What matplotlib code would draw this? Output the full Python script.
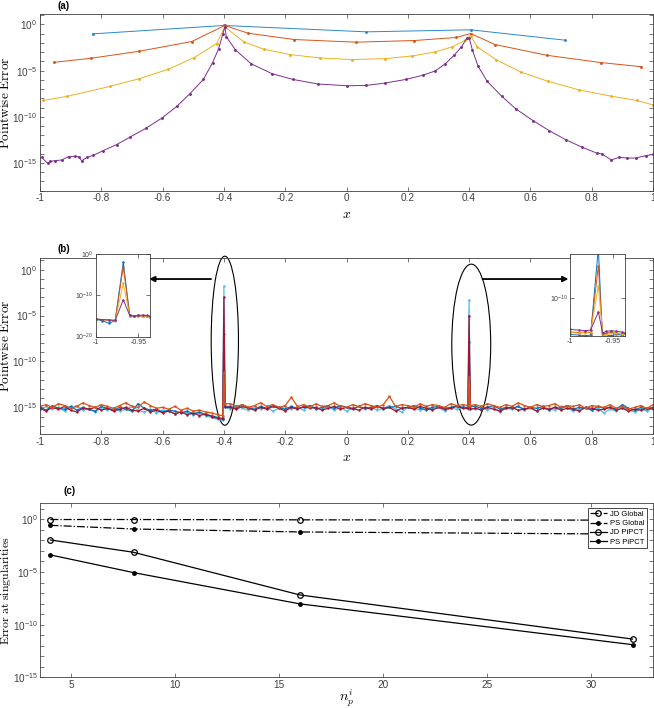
import numpy as np
import matplotlib
matplotlib.use("Agg")
import matplotlib.pyplot as plt
from matplotlib.patches import Ellipse
from matplotlib.ticker import FixedLocator, FuncFormatter, NullFormatter
import matplotlib.transforms as mtransforms

plt.rcParams['mathtext.fontset'] = 'cm'
plt.rcParams['font.family'] = ['Liberation Sans', 'DejaVu Sans']

# ---------------- panel (a): pointwise error, log10 values ----------------
a_blue_x = [-0.828, -0.4, 0.065, 0.405, 0.713]
a_blue_y = [-1.02, -0.11, -0.80, -0.58, -1.70]

a_red_x = [-0.953, -0.834, -0.676, -0.505, -0.397, -0.321, -0.171, 0.031, 0.221,
           0.358, 0.405, 0.484, 0.654, 0.831, 0.961]
a_red_y = [-4.10, -3.66, -2.90, -1.85, -0.11, -0.95, -1.63, -1.92, -1.74,
           -1.41, -0.98, -2.17, -3.34, -4.13, -4.57]

a_yel_x = [-0.990, -0.912, -0.772, -0.676, -0.582, -0.497, -0.424, -0.397, -0.335,
           -0.270, -0.184, -0.086, 0.018, 0.127, 0.214, 0.289, 0.344, 0.388, 0.405,
           0.427, 0.487, 0.569, 0.658, 0.757, 0.863, 0.947, 0.999]
a_yel_y = [-8.23, -7.79, -6.71, -5.87, -4.86, -3.59, -2.07, -0.26, -1.89,
           -2.68, -3.26, -3.63, -3.80, -3.70, -3.41, -2.98, -2.43, -1.71, -1.24,
           -2.43, -3.80, -5.15, -6.16, -7.07, -7.76, -8.23, -8.70]

a_pur_x = [-0.995, -0.975, -0.967, -0.951, -0.929, -0.907, -0.886, -0.873, -0.864,
           -0.846, -0.826, -0.794, -0.750, -0.707, -0.654, -0.603, -0.554, -0.511,
           -0.467, -0.437, -0.417, -0.403, -0.397, -0.392, -0.363, -0.312, -0.243,
           -0.175, -0.093, 0.003, 0.064, 0.125, 0.194, 0.248, 0.289, 0.323, 0.351,
           0.375, 0.392, 0.400, 0.411, 0.429, 0.459, 0.506, 0.552, 0.608, 0.661,
           0.715, 0.769, 0.816, 0.833, 0.864, 0.889, 0.916, 0.944, 0.976, 1.000]
a_pur_y = [-14.39, -15.04, -14.82, -14.75, -14.67, -14.32, -14.28, -14.35, -14.75,
           -14.39, -14.17, -13.66, -13.01, -12.21, -11.23, -10.15, -8.88, -7.50,
           -5.95, -4.14, -2.61, -0.98, -0.26, -1.34, -2.72, -4.24, -5.33,
           -5.95, -6.45, -6.64, -6.60, -6.35, -5.95, -5.51, -5.04, -4.24, -3.34,
           -2.43, -1.52, -1.45, -2.79, -4.50, -6.16, -7.76, -9.13, -10.40, -11.49,
           -12.47, -13.30, -13.92, -14.02, -14.67, -14.39, -14.46, -14.46, -14.21, -14.07]

# ---------------- panel (b): noise on a 0.02 grid, log10 values ----------------
b_x = np.linspace(-1, 1, 101)
b_lblue = [-15.3, -14.9, -15.2, -15.0, -15.4, -15.1, -14.8, -15.3, -15.2, -15.5, -15.0, -15.3, -15.1, -15.4, -15.2,
           -14.9, -15.3, -15.5, -15.2, -15.6, -15.3, -15.4, -15.7, -15.5, -15.6, -15.8, -15.6, -15.9, -16.1, -16.3,
           -1.8,
           -15.2, -14.8, -15.1, -15.3, -14.9, -15.2, -15.0, -15.4, -15.1, -14.9, -15.2, -15.0, -15.3, -14.8, -15.1,
           -15.2, -14.9, -15.3, -15.0, -15.4, -15.1, -14.9, -15.2, -15.0, -15.3, -15.1, -14.8, -15.2, -15.5, -15.0,
           -15.1, -15.3, -14.9, -15.2, -15.0, -15.4, -15.1, -15.2, -15.0,
           -3.3,
           -15.2, -14.9, -15.3, -15.0, -15.5, -15.1, -15.2, -14.9, -15.3, -15.1, -15.4, -15.0, -15.2, -15.3, -14.9,
           -15.1, -15.4, -15.2, -15.0, -15.3, -15.1, -15.6, -15.2, -15.4, -15.0, -15.3, -15.5, -15.2, -15.4, -15.1]
b_blue = [-15.0, -15.3, -14.8, -15.1, -15.2, -14.9, -15.3, -15.0, -15.2, -15.4, -14.9, -15.1, -15.3, -15.0, -15.2,
          -15.4, -14.6, -15.1, -15.3, -15.2, -15.5, -15.3, -15.4, -15.6, -15.4, -15.7, -15.5, -15.8, -15.9, -16.1,
          -7.0,
          -14.9, -15.1, -14.7, -15.0, -15.2, -14.9, -15.1, -14.8, -15.0, -15.2, -14.9, -15.1, -15.0, -14.8, -15.2,
          -15.0, -14.9, -15.1, -14.8, -15.0, -15.2, -14.9, -15.1, -15.0, -14.8, -15.2, -15.0, -14.9, -15.1, -15.0,
          -14.8, -15.1, -15.3, -15.0, -14.9, -15.1, -15.0, -14.8, -15.0,
          -7.9,
          -14.9, -15.1, -15.0, -14.8, -15.2, -15.0, -15.1, -14.9, -15.2, -15.0, -15.1, -14.9, -15.3, -15.0, -15.1,
          -14.8, -15.2, -15.0, -15.1, -15.3, -14.9, -15.1, -15.0, -15.2, -14.7, -15.1, -15.3, -15.0, -15.2, -15.0]
b_dred = [-15.1, -15.4, -15.0, -15.2, -14.9, -15.3, -15.5, -15.1, -15.2, -15.0, -15.3, -15.1, -15.4, -15.2, -15.0,
          -15.3, -15.4, -15.1, -15.5, -15.3, -15.6, -15.4, -15.7, -15.5, -15.8, -15.6, -15.9, -15.7, -16.0, -16.2,
          -3.0,
          -15.0, -15.2, -14.9, -15.1, -15.3, -15.0, -15.2, -14.9, -15.1, -15.4, -15.0, -15.2, -14.9, -15.1, -15.0,
          -15.3, -15.1, -14.9, -15.2, -15.0, -15.1, -15.3, -15.0, -15.2, -14.9, -15.1, -15.0, -15.4, -15.1, -15.0,
          -15.2, -14.9, -15.1, -15.3, -15.0, -15.2, -15.1, -14.9, -15.1,
          -5.0,
          -15.1, -15.3, -15.0, -15.2, -15.4, -15.1, -15.0, -15.3, -15.2, -15.0, -15.4, -15.1, -15.2, -15.0, -15.3,
          -15.1, -15.2, -15.4, -15.0, -15.1, -15.3, -15.2, -15.0, -15.3, -15.1, -15.4, -15.2, -15.3, -15.1, -15.2]
b_orng = [-14.9, -14.7, -15.0, -14.6, -14.8, -15.1, -14.9, -14.5, -14.8, -15.0, -14.7, -14.9, -15.1, -14.8, -14.5,
          -14.9, -15.0, -14.4, -14.8, -15.1, -15.0, -15.2, -14.9, -15.3, -15.1, -15.4, -15.3, -15.5, -15.6, -15.8,
          -11.2,
          -14.6, -14.9, -14.7, -15.0, -14.8, -14.5, -14.9, -14.7, -15.0, -14.8, -13.9, -14.9, -14.7, -15.0, -14.6,
          -14.9, -14.8, -14.5, -14.9, -15.0, -14.7, -14.9, -14.6, -14.8, -15.0, -14.7, -13.8, -14.9, -14.7, -14.8,
          -15.0, -14.6, -14.9, -14.7, -14.8, -15.0, -14.6, -14.8, -14.7,
          -11.7,
          -14.7, -14.9, -14.6, -14.8, -15.0, -14.7, -14.9, -14.5, -14.8, -15.0, -14.7, -14.9, -14.8, -14.6, -15.0,
          -14.8, -14.9, -14.7, -15.1, -14.8, -14.9, -15.0, -14.7, -15.1, -14.9, -15.2, -15.0, -14.8, -15.1, -14.7]
# extra samples right beside the two singular points
b_xs = [-0.404, -0.396, 0.396, 0.404]
b_lblue_s = [-16.4, -15.0, -15.2, -15.1]
b_blue_s = [-16.2, -14.9, -15.0, -14.9]
b_dred_s = [-16.3, -15.0, -15.1, -15.2]
b_orng_s = [-15.9, -14.6, -14.8, -14.8]

# insets of panel (b)
inL_x = [-1, -0.992, -0.984, -0.977, -0.9676, -0.96, -0.955, -0.95, -0.945, -0.94, -0.936]
inL_blue = [-15.8, -16.2, -16.8, -16.1, -2.0, -15.0, -15.1, -14.9, -15.0, -15.1, -15.2]
inL_red = [-15.7, -15.9, -16.0, -16.1, -3.1, -14.9, -15.0, -15.0, -15.1, -15.0, -15.2]
inL_yel = [-15.7, -16.0, -16.1, -16.2, -7.1, -15.0, -15.0, -14.9, -15.0, -15.1, -15.4]
inL_pur = [-15.8, -15.9, -16.0, -16.1, -11.1, -14.9, -15.0, -14.9, -14.8, -14.9, -15.1]

inR_x = [-1, -0.99, -0.982, -0.976, -0.967, -0.962, -0.958, -0.952, -0.946, -0.94, -0.936]
inR_blue = [-15.8, -15.9, -16.0, -15.9, -2.0, -17.5, -15.9, -16.0, -15.8, -15.9, -16.2]
inR_red = [-15.4, -15.5, -15.4, -15.5, -4.8, -15.9, -15.6, -15.4, -15.6, -15.7, -15.6]
inR_yel = [-15.5, -15.6, -15.5, -15.4, -8.0, -15.8, -15.9, -15.6, -15.5, -15.7, -15.8]
inR_pur = [-15.0, -15.1, -15.2, -15.1, -12.2, -15.6, -15.3, -15.2, -15.3, -15.4, -15.6]

# ---------------- panel (c): error at singularities ----------------
n_p = [4, 8, 16, 32]
jd_global = [-0.02, -0.02, -0.05, -0.08]
ps_global = [-0.57, -0.92, -1.20, -1.41]
jd_pipct = [-1.96, -3.13, -7.18, -11.37]
ps_pipct = [-3.38, -5.06, -8.03, -11.90]

C_BLUE = '#0072BD'
C_ORNG = '#D95319'
C_YEL = '#EDB120'
C_PUR = '#7E2F8E'
C_LBLUE = '#4DBEEE'
C_DRED = '#A2142F'
AX_COL = '#404040'
XT = ['-1', '-0.8', '-0.6', '-0.4', '-0.2', '0', '0.2', '0.4', '0.6', '0.8', '1']


def p10(v):
    return 10.0 ** np.asarray(v, dtype=float)


def logfmt(v, pos):
    e = int(round(np.log10(v)))
    return r'$\mathdefault{10^{%d}}$' % e


def style(ax, majors, minors, fs=7.2):
    ax.set_yscale('log')
    ax.yaxis.set_major_locator(FixedLocator(majors))
    ax.yaxis.set_minor_locator(FixedLocator(minors))
    ax.yaxis.set_major_formatter(FuncFormatter(logfmt))
    ax.yaxis.set_minor_formatter(NullFormatter())
    ax.tick_params(which='both', direction='in', top=True, right=True,
                   labelsize=fs, colors=AX_COL, width=0.5, length=2.8, pad=2)
    for s in ax.spines.values():
        s.set_color(AX_COL)
        s.set_linewidth(0.6)


def labels(ax, ylab, xlab, yfs=9.5, yx=-0.046):
    ax.set_ylabel(ylab, fontsize=yfs)
    ax.yaxis.set_label_coords(yx, 0.5)
    ax.set_xlabel(xlab, fontsize=10)
    ax.xaxis.set_label_coords(0.5, -0.092)


fig = plt.figure(figsize=(6.54, 7.08), dpi=100)
L, W = 40 / 654, 613 / 654

# ---- (a)
ax1 = fig.add_axes([L, 1 - 190.7 / 708, W, 176.4 / 708])
for xs, ys, c in [(a_blue_x, a_blue_y, '#2a88cc'), (a_red_x, a_red_y, C_ORNG),
                  (a_yel_x, a_yel_y, C_YEL), (a_pur_x, a_pur_y, C_PUR)]:
    ax1.plot(xs, p10(ys), '.-', color=c, lw=0.7, ms=2.2)
style(ax1, [1e-15, 1e-10, 1e-5, 1e0], [10.0 ** k for k in range(-18, 2)])
ax1.set_xlim(-1, 1)
ax1.set_ylim(1e-18, 10 ** 1.1)
ax1.set_xticks(np.linspace(-1, 1, 11))
ax1.set_xticklabels(XT)
labels(ax1, r'$\mathrm{Pointwise\ Error}$', r'$x$')
fig.text(58 / 654, 1 - 6 / 708, '(a)', fontsize=7, fontweight='bold', va='center')

# ---- (b)
ax2 = fig.add_axes([L, 1 - 434 / 708, W, 176.3 / 708])
for ys, ysx, c in [(b_lblue, b_lblue_s, C_LBLUE), (b_blue, b_blue_s, C_BLUE),
                   (b_dred, b_dred_s, C_DRED), (b_orng, b_orng_s, C_ORNG)]:
    xx = np.concatenate([b_x, b_xs])
    yy = np.concatenate([ys, ysx])
    o = np.argsort(xx, kind='stable')
    ax2.plot(xx[o], p10(yy[o]), '.-', color=c, lw=0.9, ms=1.5)
style(ax2, [1e-15, 1e-10, 1e-5, 1e0], [10.0 ** k for k in range(-17, 2)])
ax2.set_xlim(-1, 1)
ax2.set_ylim(10 ** -17.9, 10 ** 1.3)
ax2.set_xticks(np.linspace(-1, 1, 11))
ax2.set_xticklabels(XT)
labels(ax2, r'$\mathrm{Pointwise\ Error}$', r'$x$')
fig.text(58 / 654, 1 - 249 / 708, '(b)', fontsize=7, fontweight='bold', va='center')

tr = mtransforms.blended_transform_factory(ax2.transData, ax2.transAxes)
ax2.add_patch(Ellipse((-0.397, 0.529), 0.089, 0.959, transform=tr, fill=False,
                      ec='black', lw=0.8, clip_on=False))
ax2.add_patch(Ellipse((0.407, 0.507), 0.127, 0.913, transform=tr, fill=False,
                      ec='black', lw=0.8, clip_on=False))
arr = dict(arrowstyle='-|>', color='black', lw=1.3, mutation_scale=8, shrinkA=0, shrinkB=0)
ax2.annotate('', xy=(0.178, 0.879), xytext=(0.279, 0.879), xycoords='axes fraction',
             textcoords='axes fraction', arrowprops=arr)
ax2.annotate('', xy=(0.862, 0.879), xytext=(0.722, 0.879), xycoords='axes fraction',
             textcoords='axes fraction', arrowprops=arr)

# insets
axL = fig.add_axes([95.5 / 654, 1 - 336.5 / 708, 54.8 / 654, 82.5 / 708])
for ys, c in [(inL_blue, C_BLUE), (inL_red, C_ORNG), (inL_yel, C_YEL), (inL_pur, C_PUR)]:
    axL.plot(inL_x, p10(ys), '.-', color=c, lw=0.7, ms=1.6)
style(axL, [1e-20, 1e-10, 1e0], [], fs=5)
axL.set_ylim(1e-20, 1e0)
axL.set_xlim(-1, -0.936)
axL.set_xticks([-1, -0.95])
axL.set_xticklabels(['-1', '-0.95'])
axL.tick_params(pad=1.5)

axR = fig.add_axes([570 / 654, 1 - 335.7 / 708, 55 / 654, 81.4 / 708])
for ys, c in [(inR_blue, C_BLUE), (inR_red, C_ORNG), (inR_yel, C_YEL), (inR_pur, C_PUR)]:
    axR.plot(inR_x, p10(ys), '.-', color=c, lw=0.7, ms=1.6)
style(axR, [1e-10], [], fs=5)
axR.set_ylim(1e-16, 1e-3)
axR.set_xlim(-1, -0.936)
axR.set_xticks([-1, -0.95])
axR.set_xticklabels(['-1', '-0.95'])
axR.tick_params(pad=1.5)

# ---- (c)
ax3 = fig.add_axes([L, 1 - 677.3 / 708, 613.3 / 654, 174 / 708])
ax3.plot(n_p, p10(jd_global), '-.', color='black', lw=0.9, marker='o', ms=4,
         mfc='none', mew=0.9, label='JD Global')
ax3.plot(n_p, p10(ps_global), '-.', color='black', lw=0.9, marker='.', ms=5,
         label='PS Global')
ax3.plot(n_p, p10(jd_pipct), '-', color='black', lw=0.9, marker='o', ms=4,
         mfc='none', mew=0.9, label='JD PiPCT')
ax3.plot(n_p, p10(ps_pipct), '-', color='black', lw=0.9, marker='.', ms=5,
         label='PS PiPCT')
style(ax3, [1e-15, 1e-10, 1e-5, 1e0], [10.0 ** k for k in range(-15, 2)])
ax3.tick_params(axis='y', pad=1.2)
ax3.set_xlim(3.5, 33)
ax3.set_ylim(1e-15, 10 ** 1.52)
ax3.set_xticks([5, 10, 15, 20, 25, 30])
labels(ax3, r'$\mathrm{Error\ at\ singularities}$', r'$n_p^i$', yfs=8.5, yx=-0.044)
ax3.xaxis.set_label_coords(0.5, -0.062)
leg = ax3.legend(loc='upper right', bbox_to_anchor=(0.989, 0.971), fontsize=5.5,
                 fancybox=False, framealpha=1, edgecolor='black', borderpad=0.3,
                 labelspacing=0.25, handlelength=2.2, handletextpad=0.4, borderaxespad=0)
leg.get_frame().set_linewidth(0.5)
fig.text(64 / 654, 1 - 490.7 / 708, '(c)', fontsize=7, fontweight='bold', va='center')

fig.savefig('out.png', dpi=100)
